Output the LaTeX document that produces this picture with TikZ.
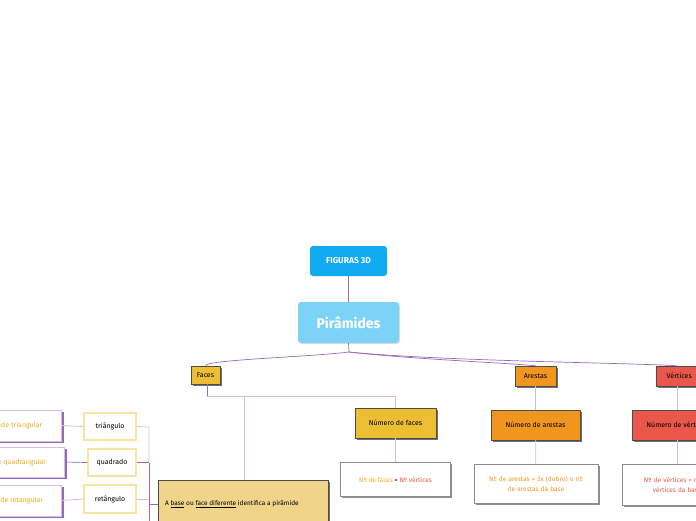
\documentclass[tikz,border=0pt]{standalone}
\usepackage{fontspec}
\setmainfont{Fira Sans}
\usetikzlibrary{calc,shadows,positioning}
\definecolor{skyblue}{RGB}{16,170,240}
\definecolor{paleblue}{RGB}{125,210,248}
\definecolor{facegold}{RGB}{238,190,50}
\definecolor{edgeorange}{RGB}{240,150,30}
\definecolor{vertred}{RGB}{232,87,74}
\definecolor{basesand}{RGB}{240,212,138}
\definecolor{linkpurple}{RGB}{150,105,185}
\definecolor{lightpurple}{RGB}{210,190,228}
\definecolor{paleyellow}{RGB}{247,228,160}
\definecolor{textgold}{RGB}{235,175,30}
\begin{document}
\begin{tikzpicture}[x=1pt,y=-1pt,
  rootbox/.style={rectangle, fill=skyblue, rounded corners=3pt, inner sep=0pt, text=white, font=\bfseries\fontsize{8.5}{10}\selectfont},
  mainbox/.style={rectangle, fill=paleblue, rounded corners=3pt, inner sep=0pt, text=white, font=\bfseries\fontsize{14}{16}\selectfont, drop shadow={shadow xshift=0.8pt, shadow yshift=-0.8pt, fill=black!25}},
  topic/.style={rectangle, draw=black!70, line width=0.5pt, inner sep=0pt, font=\fontsize{7}{8}\selectfont, drop shadow={shadow xshift=1.5pt, shadow yshift=-1.5pt, fill=black!70, opacity=0.8}},
  result/.style={rectangle, draw=black!45, fill=white, line width=0.5pt, inner sep=0pt, align=center, font=\fontsize{6.5}{10}\selectfont, drop shadow={shadow xshift=1.5pt, shadow yshift=-1.5pt, fill=black!55, opacity=0.8}},
  shapebox/.style={rectangle, draw=paleyellow, fill=white, line width=1.2pt, inner sep=0pt, font=\fontsize{7}{8}\selectfont},
  pirbox/.style={rectangle, draw=lightpurple, fill=white, line width=0.8pt, inner sep=0pt, text=textgold, font=\fontsize{7}{8}\selectfont, drop shadow={shadow xshift=2pt, shadow yshift=-2pt, fill=linkpurple, opacity=1}},
  link/.style={draw=linkpurple, line width=0.7pt},
  softlink/.style={draw=lightpurple, line width=0.8pt}
]
  \useasboundingbox (0,0) rectangle (696,520);
  \clip (0,0) rectangle (696,520);

  % centro
  \node[rootbox, minimum width=77pt, minimum height=30pt] (fig) at (348.5,261) {FIGURAS 3D};
  \node[mainbox, minimum width=101pt, minimum height=41pt] (pir) at (348.5,322.5) {Pirâmides};
  \coordinate (hub) at (349,352);

  % ramos
  \node[topic, fill=facegold, minimum width=29pt, minimum height=18pt] (faces) at (205.5,375) {Faces};
  \node[topic, fill=edgeorange, minimum width=41pt, minimum height=20pt] (arestas) at (535.5,376) {Arestas};
  \node[topic, fill=vertred, minimum width=46pt, minimum height=20pt, anchor=west] (vertices) at (656,376) {Vértices};

  \node[topic, fill=facegold, minimum width=81pt, minimum height=30pt] (nfaces) at (395.5,423) {Número de faces};
  \node[result, minimum width=110pt, minimum height=34pt, below=24pt of nfaces] (rfaces) {{\color{textgold}Nº de faces} = {\color{vertred}Nº vértices}};

  \node[topic, fill=edgeorange, minimum width=89pt, minimum height=30pt] (narestas) at (535.5,425) {Número de arestas};
  \node[result, text=edgeorange, minimum width=124pt, minimum height=39pt, text width=118pt] (rarestas) at (536,483.5) {Nº de arestas = 2x (dobro) o nº\\ de arestas da base};

  \node[topic, fill=vertred, minimum width=90pt, minimum height=30pt, anchor=west] (nvertices) at (632,425) {Número de vértices};
  \node[result, text=vertred, minimum width=110pt, minimum height=41pt, text width=104pt, anchor=west] (rvertices) at (622,484.5) {Nº de vértices = nº de\\ vértices da base};

  \node[topic, fill=basesand, minimum width=170pt, minimum height=50pt, anchor=north west] (base) at (158,480) {};
  \node[font=\fontsize{6.5}{8}\selectfont, anchor=west, inner sep=0pt] (basetxt) at (165,504) {A \underline{base} ou \underline{face diferente} identifica a pirâmide};

  % formas da base
  \node[shapebox, minimum width=52pt, minimum height=27pt] (tri) at (110,426.5) {triângulo};
  \node[shapebox, minimum width=48pt, minimum height=27pt] (quad) at (112,462.5) {quadrado};
  \node[shapebox, minimum width=52pt, minimum height=28pt] (ret) at (110,499) {retângulo};

  \node[pirbox, minimum width=100pt, minimum height=31pt, anchor=east] (ptri) at (62,425.5) {Pirâmide triangular};
  \node[pirbox, minimum width=110pt, minimum height=30pt, anchor=east] (pquad) at (65,462) {Pirâmide quadrangular};
  \node[pirbox, minimum width=100pt, minimum height=31pt, anchor=east] (pret) at (62,500.5) {Pirâmide retangular};

  % ligações
  \draw[link] (fig) -- (pir);
  \draw[link] (pir.south) -- (hub);
  \draw[link] (hub) .. controls +(-40,5) and +(0,-6) .. (faces.north);
  \draw[link] (hub) .. controls +(60,7) and +(-30,-3) .. (arestas.north);
  \draw[link] (hub) .. controls +(90,9) and +(-50,-3) .. (vertices.north -| 677,0);

  \coordinate (fbar) at (207,396);
  \draw[link] (faces.south -| fbar) -- (fbar);
  \draw[softlink] (fbar) -| (nfaces.north);
  \draw[softlink] (base.north -| 244,0) -- (fbar -| 244,0);
  \draw[softlink] (nfaces) -- (rfaces);
  \draw[softlink] (arestas) -- (narestas);
  \draw[softlink] (narestas) -- (rarestas);
  \draw[softlink] (vertices.south -| 677,0) -- (nvertices.north -| 677,0);
  \draw[softlink] (nvertices.south -| 677,0) -- (rvertices.north -| 677,0);

  \coordinate (brk) at (149,427);
  \draw[softlink] (tri.east) -- (brk) -- (brk |- quad);
  \draw[link] (brk |- quad) -- (149,525);
  \draw[link] (quad.east) -- (brk |- quad);
  \draw[softlink] (ret.east) -- (brk |- ret);
  \draw[link] (base.west |- basetxt) -- (brk |- basetxt);

  \draw[softlink] (ptri.east) -- (tri.west);
  \draw[link] (pquad.east) -- (quad.west);
  \draw[softlink] (pret.east) -- (ret.west);
\end{tikzpicture}
\end{document}
